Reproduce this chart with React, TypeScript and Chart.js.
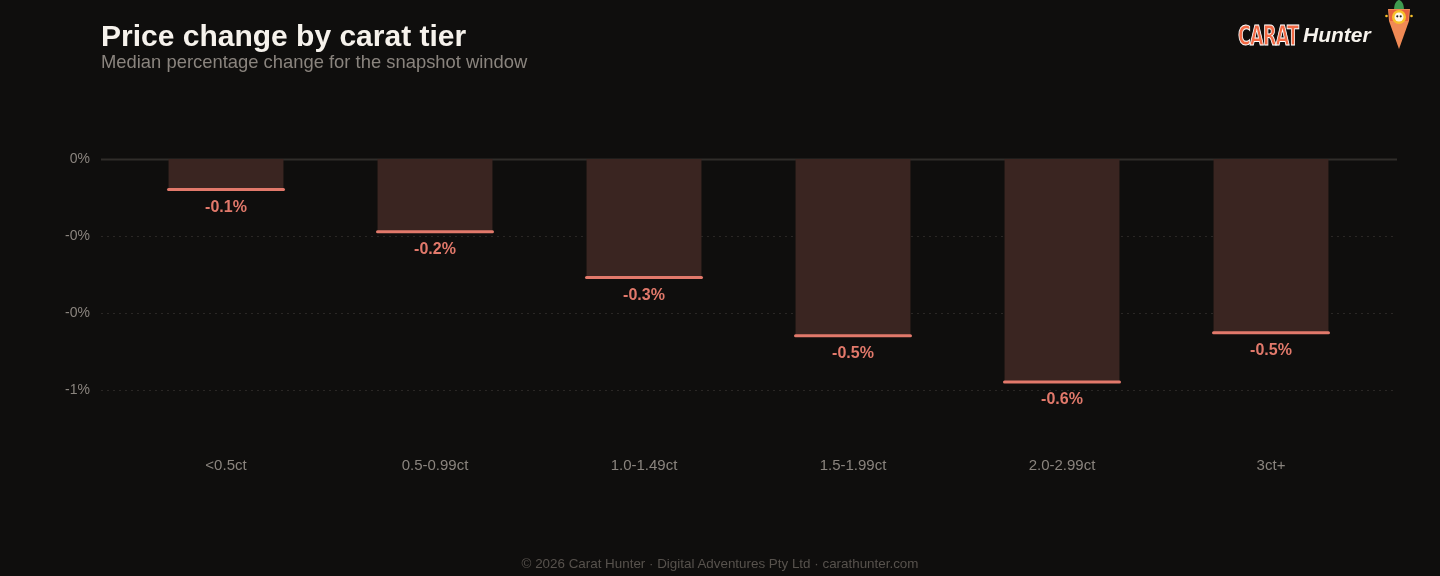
import React, { useEffect, useRef } from "react";
import { Chart, registerables } from "chart.js";

Chart.register(...registerables);

// Carat tiers and the median percentage price change for each
const tiers = ["<0.5ct", "0.5-0.99ct", "1.0-1.49ct", "1.5-1.99ct", "2.0-2.99ct", "3ct+"];
const medianChange = [-0.079, -0.189, -0.308, -0.459, -0.579, -0.451];
const yTickValues = [0, -0.2, -0.4, -0.6];

const FONT = "'Liberation Sans', Arial, Helvetica, sans-serif";
const BG = "#0f0e0d";
const BAR_FILL = "#3a2521";
const ACCENT = "#e2796b";
const MUTED = "#8a847e";

// Grid lines spanning the full plot width, plus the accent cap and value label on each bar
const decorPlugin = {
  id: "decor",
  beforeDatasetsDraw(chart: any) {
    const { ctx } = chart;
    const y = chart.scales.y;
    const x0 = 101;
    const x1 = 1397;
    ctx.save();
    yTickValues.forEach((v) => {
      const py = Math.round(y.getPixelForValue(v)) + 0.5;
      ctx.beginPath();
      if (v === 0) {
        ctx.setLineDash([]);
        ctx.strokeStyle = "#302d2a";
        ctx.lineWidth = 2;
      } else {
        ctx.setLineDash([2, 4]);
        ctx.strokeStyle = "#2a2725";
        ctx.lineWidth = 1;
      }
      ctx.moveTo(x0, py);
      ctx.lineTo(x1, py);
      ctx.stroke();
    });
    ctx.restore();
  },
  afterDatasetsDraw(chart: any) {
    const { ctx } = chart;
    const meta = chart.getDatasetMeta(0);
    ctx.save();
    meta.data.forEach((bar: any, i: number) => {
      const { x, y, width } = bar.getProps(["x", "y", "width"], true);
      ctx.beginPath();
      ctx.strokeStyle = ACCENT;
      ctx.lineWidth = 3;
      ctx.lineCap = "round";
      ctx.moveTo(x - width / 2, y);
      ctx.lineTo(x + width / 2, y);
      ctx.stroke();
      ctx.fillStyle = ACCENT;
      ctx.font = `bold 16px ${FONT}`;
      ctx.textAlign = "center";
      ctx.textBaseline = "middle";
      ctx.fillText(`${medianChange[i].toFixed(1)}%`, x, y + 18);
    });
    ctx.restore();
  },
};

function CarrotMark() {
  return (
    <svg width="30" height="50" viewBox="0 0 30 50" style={{ display: "block" }}>
      <path d="M10 10 C10 2 14 0 15 0 C16 0 20 2 20 10 Z" fill="#3f9a4f" />
      <path d="M4 9 L26 9 L25 21 L15 49 L5 21 Z" fill="#f08a55" />
      <path d="M5 10 L25 10 L24 21 L6 21 Z" fill="#e8623e" />
      <circle cx="15" cy="17" r="7" fill="#f7c12b" />
      <circle cx="15" cy="17" r="4.5" fill="#fff6e6" />
      <circle cx="13.3" cy="16.3" r="1.1" fill="#222" />
      <circle cx="16.7" cy="16.3" r="1.1" fill="#222" />
      <circle cx="2.5" cy="16" r="1.3" fill="#f7c12b" />
      <circle cx="27.5" cy="16" r="1.3" fill="#f7c12b" />
    </svg>
  );
}

export default function App() {
  const canvasRef = useRef<HTMLCanvasElement | null>(null);

  useEffect(() => {
    document.body.style.margin = "0";
    document.body.style.background = BG;
    const canvas = canvasRef.current;
    if (!canvas) return;
    const chart = new Chart(canvas, {
      type: "bar",
      data: {
        labels: tiers,
        datasets: [
          {
            data: medianChange,
            backgroundColor: BAR_FILL,
            borderWidth: 0,
            barPercentage: 0.55,
            categoryPercentage: 1,
          },
        ],
      },
      plugins: [decorPlugin],
      options: {
        responsive: false,
        animation: false,
        devicePixelRatio: 1,
        layout: { padding: { top: 159, right: 64.5, bottom: 98.25, left: 0 } },
        plugins: {
          legend: { display: false },
          tooltip: { enabled: false },
          title: { display: false },
        },
        scales: {
          x: {
            grid: { display: false },
            border: { display: false },
            ticks: {
              color: MUTED,
              font: { family: FONT, size: 15 },
              padding: 1,
              maxRotation: 0,
            },
            afterFit(scale: any) {
              scale.height = 30;
            },
          },
          y: {
            min: -0.75,
            max: 0,
            grid: { display: false, drawTicks: false },
            border: { display: false },
            afterBuildTicks(scale: any) {
              scale.ticks = yTickValues.map((v) => ({ value: v }));
            },
            afterFit(scale: any) {
              scale.width = 121.5;
            },
            ticks: {
              color: MUTED,
              font: { family: FONT, size: 14 },
              padding: 31.5,
              callback: (v: any) => `${Number(v).toFixed(0)}%`,
            },
          },
        },
      },
    });
    return () => chart.destroy();
  }, []);

  return (
    <div
      style={{
        position: "fixed",
        left: 0,
        top: 0,
        width: 1440,
        height: 576,
        background: BG,
        overflow: "hidden",
        fontFamily: FONT,
      }}
    >
      <canvas
        ref={canvasRef}
        width={1440}
        height={576}
        style={{ position: "absolute", left: 0, top: 0, width: 1440, height: 576 }}
      />
      <div
        style={{
          position: "absolute",
          left: 101,
          top: 18,
          color: "#f6f2ec",
          fontSize: 30,
          fontWeight: 700,
          lineHeight: "36px",
          whiteSpace: "nowrap",
        }}
      >
        Price change by carat tier
      </div>
      <div
        style={{
          position: "absolute",
          left: 101,
          top: 51,
          color: MUTED,
          fontSize: 18.4,
          lineHeight: "22px",
          whiteSpace: "nowrap",
        }}
      >
        Median percentage change for the snapshot window
      </div>
      <div
        style={{
          position: "absolute",
          left: 1238,
          top: 18,
          height: 34,
          display: "flex",
          alignItems: "center",
          whiteSpace: "nowrap",
        }}
      >
        <span
          style={{
            display: "inline-block",
            fontFamily: "'DejaVu Sans Condensed', 'DejaVu Sans', sans-serif",
            fontWeight: 700,
            fontSize: 27,
            color: "#f26a45",
            WebkitTextStroke: "1px #ffffff",
            transform: "scaleX(0.72)",
            transformOrigin: "left center",
            letterSpacing: -1,
            width: 60,
          }}
        >
          CARAT
        </span>
        <span
          style={{
            fontStyle: "italic",
            fontWeight: 700,
            fontSize: 21,
            color: "#f6f2ec",
            marginLeft: 5,
          }}
        >
          Hunter
        </span>
      </div>
      <div style={{ position: "absolute", left: 1384, top: 0 }}>
        <CarrotMark />
      </div>
      <div
        style={{
          position: "absolute",
          left: 0,
          width: 1440,
          top: 555,
          textAlign: "center",
          color: "#57524d",
          fontSize: 13.4,
          lineHeight: "17px",
        }}
      >
        © 2026 Carat Hunter · Digital Adventures Pty Ltd · carathunter.com
      </div>
    </div>
  );
}
